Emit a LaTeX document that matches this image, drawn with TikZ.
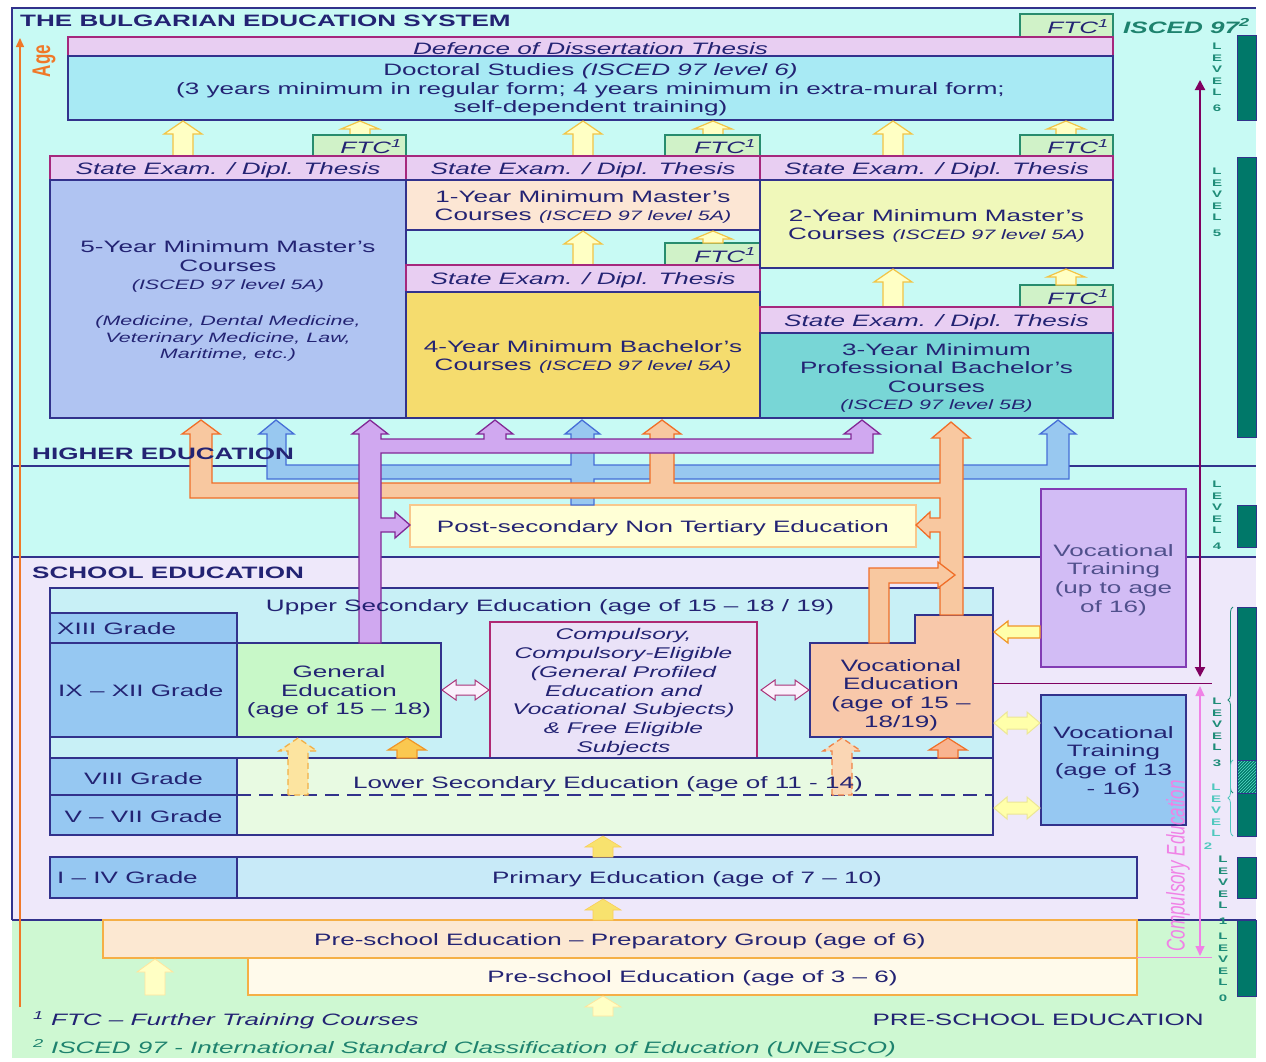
\documentclass[tikz,border=0pt]{standalone}
\usepackage{fontspec}
\setmainfont[FakeStretch=1.58]{Liberation Sans}
\newfontfamily\plainsf{Liberation Sans}
\usetikzlibrary{arrows.meta,patterns,decorations.pathreplacing}

\definecolor{navytext}{RGB}{35,35,115}
\definecolor{boxline}{RGB}{50,50,140}
\definecolor{hicyan}{RGB}{200,250,244}
\definecolor{schoollav}{RGB}{238,232,250}
\definecolor{preschgreen}{RGB}{206,248,210}
\definecolor{examfill}{RGB}{232,206,242}
\definecolor{exambord}{RGB}{165,40,125}
\definecolor{ftcfill}{RGB}{208,242,200}
\definecolor{ftcbord}{RGB}{40,140,110}
\definecolor{docfill}{RGB}{168,234,244}
\definecolor{fivefill}{RGB}{176,196,242}
\definecolor{onefill}{RGB}{252,230,212}
\definecolor{fourfill}{RGB}{245,220,110}
\definecolor{twofill}{RGB}{240,248,186}
\definecolor{threefill}{RGB}{120,214,214}
\definecolor{yelfill}{RGB}{255,255,196}
\definecolor{yelbord}{RGB}{242,196,70}
\definecolor{purpfill}{RGB}{208,168,240}
\definecolor{purpbord}{RGB}{130,40,150}
\definecolor{bluefill}{RGB}{152,200,240}
\definecolor{bluebord}{RGB}{70,110,215}
\definecolor{orfill}{RGB}{248,200,160}
\definecolor{orbord}{RGB}{240,110,40}
\definecolor{postfill}{RGB}{255,255,214}
\definecolor{postbord}{RGB}{248,200,140}
\definecolor{uppfill}{RGB}{200,240,246}
\definecolor{gradefill}{RGB}{150,200,242}
\definecolor{genfill}{RGB}{200,248,200}
\definecolor{compfill}{RGB}{234,226,248}
\definecolor{compbord}{RGB}{175,40,115}
\definecolor{vocfill}{RGB}{248,200,170}
\definecolor{lowfill}{RGB}{232,250,226}
\definecolor{vtupfill}{RGB}{210,188,245}
\definecolor{vtupbord}{RGB}{130,60,180}
\definecolor{vtuptext}{RGB}{80,80,140}
\definecolor{primfill}{RGB}{200,234,248}
\definecolor{prepfill}{RGB}{252,232,210}
\definecolor{prebord}{RGB}{245,175,70}
\definecolor{prefill}{RGB}{255,250,235}
\definecolor{tealbar}{RGB}{0,120,105}
\definecolor{hatchteal}{RGB}{90,220,200}
\definecolor{lvltext}{RGB}{30,140,120}
\definecolor{lvltwo}{RGB}{80,200,190}
\definecolor{iscedgreen}{RGB}{30,130,110}
\definecolor{rightpurp}{RGB}{128,0,96}
\definecolor{pinkline}{RGB}{240,130,230}
\definecolor{ageorange}{RGB}{240,120,40}
\definecolor{goldfill}{RGB}{250,200,80}
\definecolor{goldbord}{RGB}{240,150,40}
\definecolor{dashyfill}{RGB}{252,228,160}
\definecolor{dashybord}{RGB}{242,175,70}
\definecolor{dashofill}{RGB}{250,214,180}
\definecolor{dashobord}{RGB}{240,130,70}
\definecolor{sunfill}{RGB}{248,226,110}
\definecolor{dblfill}{RGB}{250,240,252}
\definecolor{dblbord}{RGB}{170,50,120}
\definecolor{ltyfill}{RGB}{255,255,170}
\definecolor{ltybord}{RGB}{236,230,150}

\newcommand{\bodysize}{\fontsize{16.5}{18.7}\selectfont}
\newcommand{\smallsize}{\fontsize{13.6}{16}\selectfont}
\newcommand{\compsize}{\fontsize{15.5}{18.7}\selectfont}
\newcommand{\lvlsize}{\fontsize{9.5}{11.5}\selectfont}

\tikzset{
  pbox/.style={draw=boxline, line width=1.3pt, inner sep=0pt, outer sep=0pt,
    text=navytext, align=center, font=\bodysize},
  exambar/.style={draw=exambord, fill=examfill, font=\bodysize\itshape},
  ftcbox/.style={draw=ftcbord, fill=ftcfill},
  ftctext/.style={inner sep=0pt, text=navytext, font=\bodysize\itshape},
  grade/.style={fill=gradefill},
  compbox/.style={draw=compbord, fill=compfill, font=\compsize\itshape},
  postbox/.style={draw=postbord, fill=postfill},
  vtupbox/.style={draw=vtupbord, fill=vtupfill, text=vtuptext},
  prepbox/.style={draw=prebord, fill=prepfill},
  prebox/.style={draw=prebord, fill=prefill},
  btext/.style={inner sep=0pt, text=navytext, align=center, font=\bodysize},
  headtext/.style={inner sep=0pt, text=navytext, font=\bodysize\bfseries, anchor=west},
  secline/.style={draw=boxline, line width=1.2pt},
  tealbox/.style={fill=tealbar, draw=boxline, line width=1pt},
  lvllabel/.style={anchor=north, inner sep=0pt, align=center, font=\lvlsize\bfseries},
  yarr/.style={fill=yelfill, draw=yelbord, line width=1.2pt},
  sunarr/.style={fill=sunfill, draw=sunfill!80!orange, line width=0.6pt},
  prearr/.style={fill=yelfill, draw=yelfill!80!orange, line width=0.8pt},
  goldarr/.style={fill=goldfill, draw=goldbord, line width=1.2pt},
  vocarr/.style={fill=orfill!90!red, draw=orbord, line width=1.2pt},
  dasharry/.style={fill=dashyfill, draw=dashybord, line width=1.3pt, dash pattern=on 6pt off 4pt},
  dasharro/.style={fill=dashofill, draw=dashobord, line width=1.3pt, dash pattern=on 6pt off 4pt},
  dblarr/.style={fill=dblfill, draw=dblbord, line width=1pt},
  ltyarr/.style={fill=ltyfill, draw=ltybord, line width=1pt},
  vtarr/.style={fill=ltyfill, draw=goldbord, line width=1.2pt},
  bluepipe/.style={fill=bluefill, draw=bluebord, line width=1.3pt},
  orpipe/.style={fill=orfill, draw=orbord, line width=1.3pt},
  purppipe/.style={fill=purpfill, draw=purpbord, line width=1.3pt},
}

% box with its text centred: [style]{x1}{y1}{x2}{y2}{name}{text}
\newcommand{\eduBox}[7][]{%
  \node[pbox,#1,minimum width={#4-#2},minimum height={#5-#3}] (#6)
    at ({(#2+#4)/2},{(#3+#5)/2}) {};
  \node[pbox,#1,draw=none,fill=none] (#6txt) at ([yshift=-2pt]#6.center) {#7};}
% FTC tab
\newcommand{\ftcBox}[5]{%
  \eduBox[ftcbox]{#1}{#2}{#3}{#4}{#5}{}
  \node[ftctext,anchor=east] (#5lbl) at ([xshift=-4pt,yshift=-1pt]#5.east) {FTC\textsuperscript{1}};}
% fat arrow up: [style]{x}{base}{tip}{shaft}{head}{head length}
\newcommand{\fatup}[7][]{%
  \draw[#1] ({#2-#5},#3) -- ({#2-#5},{#4+#7}) -- ({#2-#6},{#4+#7}) -- (#2,#4)
    -- ({#2+#6},{#4+#7}) -- ({#2+#5},{#4+#7}) -- ({#2+#5},#3) -- cycle;}
% fat arrow left: [style]{base x}{tip x}{y}{shaft}{head}{head length}
\newcommand{\fatleft}[7][]{%
  \draw[#1] (#2,{#4-#5}) -- ({#3+#7},{#4-#5}) -- ({#3+#7},{#4-#6}) -- (#3,#4)
    -- ({#3+#7},{#4+#6}) -- ({#3+#7},{#4+#5}) -- (#2,{#4+#5}) -- cycle;}
% fat double arrow: [style]{x1}{x2}{y}{shaft}{head}{head length}
\newcommand{\fatboth}[7][]{%
  \draw[#1] (#2,#4) -- ({#2+#7},{#4-#6}) -- ({#2+#7},{#4-#5}) -- ({#3-#7},{#4-#5})
    -- ({#3-#7},{#4-#6}) -- (#3,#4) -- ({#3-#7},{#4+#6}) -- ({#3-#7},{#4+#5})
    -- ({#2+#7},{#4+#5}) -- ({#2+#7},{#4+#6}) -- cycle;}
% level tag: {x}{top}{digit}{colour}{name}
\newcommand{\levelTag}[5]{%
  \node[lvllabel,text=#4] (#5) at (#1,#2) {L\\E\\V\\E\\L\\[4pt]#3};}

\begin{document}
\begin{tikzpicture}[x=1pt,y=-1pt]
  \useasboundingbox (0,0) rectangle (1266,1061);
  %% backgrounds
  \fill[hicyan] (12,8) rectangle (1256,557);
  \fill[schoollav] (12,557) rectangle (1256,920);
  \fill[preschgreen] (12,920) rectangle (1256,1058);
  \draw[secline] (12,920) -- (12,8) -- (1256,8);
  \draw[secline] (12,466) -- (1256,466);
  \draw[secline] (12,557) -- (1256,557);
  \draw[secline] (12,920) -- (1256,920);

  %% age axis
  \coordinate (agelow) at (20,1007);
  \coordinate (agehigh) at (20,38);
  \draw[ageorange, line width=1.5pt, -{Triangle[length=9pt,width=8pt]}] (agelow) -- (agehigh);
  \node[rotate=90, yscale=1.5, inner sep=0pt, text=ageorange, font=\plainsf\fontsize{17}{17}\selectfont\bfseries] (agetxt) at (44,61) {Age};

  %% isced levels
  \draw[tealbox] (1237,35) rectangle (1256,120);
  \draw[tealbox] (1237,157) rectangle (1256,437);
  \draw[tealbox] (1237,505) rectangle (1256,547);
  \draw[tealbox] (1237,607) rectangle (1256,836);
  \fill[pattern=north east lines, pattern color=hatchteal] (1238,760) rectangle (1256,793);
  \draw[boxline, line width=1pt] (1237,760) -- (1256,760) (1237,793) -- (1256,793);
  \draw[tealbox] (1237,857) rectangle (1256,898);
  \draw[tealbox] (1237,920) rectangle (1256,996);
  \draw[decorate, decoration={brace,amplitude=5pt}, draw=lvltext, line width=0.8pt] (1233,793) -- (1233,607);
  \draw[decorate, decoration={brace,amplitude=5pt}, draw=lvltwo, line width=0.8pt] (1233,836) -- (1233,760);
  \levelTag{1217}{43}{6}{lvltext}{lvsix}
  \levelTag{1217}{168}{5}{lvltext}{lvfive}
  \levelTag{1217}{481}{4}{lvltext}{lvfour}
  \levelTag{1217}{698}{3}{lvltext}{lvthree}
  \node[lvllabel,text=lvltwo] (lvtwo) at (1216,784) {L\\E\\V\\E\\L};
  \node[lvllabel,text=lvltwo] (lvtwodigit) at (1208,843) {2};
  \levelTag{1223}{856}{1}{lvltext}{lvone}
  \levelTag{1223}{933}{0}{lvltext}{lvzero}

  %% higher education
  \ftcBox{1020}{14}{1113}{37}{ftctop}
  \eduBox[exambar]{68}{37}{1113}{56}{defence}{Defence of Dissertation Thesis}
  \eduBox[fill=docfill]{68}{56}{1113}{120}{doctoral}{Doctoral Studies \textit{(ISCED 97 level 6)}\\
    (3 years minimum in regular form; 4 years minimum in extra-mural form;\\self-dependent training)}
  \fatup[yarr]{183}{156}{121}{10}{19}{13}
  \fatup[yarr]{360}{135}{121}{10}{19}{8}
  \fatup[yarr]{583}{156}{121}{10}{19}{13}
  \fatup[yarr]{713}{135}{121}{10}{19}{8}
  \fatup[yarr]{893}{156}{121}{10}{19}{13}
  \fatup[yarr]{1066}{135}{121}{10}{19}{8}
  \ftcBox{313}{135}{406}{156}{ftca}
  \ftcBox{665}{135}{760}{156}{ftcb}
  \ftcBox{1020}{135}{1113}{156}{ftcc}
  \eduBox[exambar]{50}{156}{406}{180}{exama}{State Exam. / Dipl. Thesis}
  \eduBox[exambar]{406}{156}{760}{180}{examb}{State Exam. / Dipl. Thesis}
  \eduBox[exambar]{760}{156}{1113}{180}{examc}{State Exam. / Dipl. Thesis}
  \eduBox[fill=fivefill]{50}{180}{406}{418}{fiveyear}{5-Year Minimum Master's\\Courses\\
    {\smallsize\itshape (ISCED 97 level 5A)}\\[17pt]
    {\smallsize\itshape (Medicine, Dental Medicine,}\\[-2pt]
    {\smallsize\itshape Veterinary Medicine, Law,}\\[-2pt]
    {\smallsize\itshape Maritime, etc.)}}
  \eduBox[fill=onefill]{406}{180}{760}{230}{oneyear}{1-Year Minimum Master's\\Courses {\smallsize\itshape (ISCED 97 level 5A)}}
  \fatup[yarr]{583}{265}{231}{10}{19}{13}
  \ftcBox{665}{243}{760}{265}{ftcd}
  \fatup[yarr]{713}{243}{231}{10}{19}{8}
  \eduBox[exambar]{406}{265}{760}{292}{examd}{State Exam. / Dipl. Thesis}
  \eduBox[fill=fourfill]{406}{292}{760}{418}{fouryear}{4-Year Minimum Bachelor's\\Courses {\smallsize\itshape (ISCED 97 level 5A)}}
  \eduBox[fill=twofill]{760}{180}{1113}{268}{twoyear}{2-Year Minimum Master's\\Courses {\smallsize\itshape (ISCED 97 level 5A)}}
  \fatup[yarr]{893}{307}{269}{10}{19}{13}
  \ftcBox{1020}{285}{1113}{307}{ftce}
  \fatup[yarr]{1066}{285}{269}{10}{19}{8}
  \eduBox[exambar]{760}{307}{1113}{333}{exame}{State Exam. / Dipl. Thesis}
  \eduBox[fill=threefill]{760}{333}{1113}{418}{threeyear}{3-Year Minimum\\Professional Bachelor's\\Courses\\[-2pt]
    {\smallsize\itshape (ISCED 97 level 5B)}}

  %% post-secondary
  \eduBox[postbox]{410}{505}{916}{547}{postsec}{Post-secondary Non Tertiary Education}

  %% school education
  \eduBox[fill=uppfill]{50}{588}{993}{758}{uppersec}{}
  \eduBox[grade]{50}{613}{237}{643}{gradethirteen}{}
  \eduBox[grade]{50}{643}{237}{737}{gradetwelve}{}
  \eduBox[fill=genfill]{237}{643}{441}{737}{general}{General\\Education\\(age of 15 -- 18)}
  \eduBox[compbox]{490}{622}{757}{758}{compuls}{Compulsory,\\Compulsory-Eligible\\(General Profiled\\Education and\\
    Vocational Subjects)\\\& Free Eligible\\Subjects}
  \draw[pbox, fill=vocfill] (810,643) -- (915,643) -- (915,615) -- (993,615) -- (993,737) -- (810,737) -- cycle;
  \eduBox[fill=lowfill]{237}{758}{993}{835}{lowersec}{}
  \draw[boxline, line width=1.3pt, dash pattern=on 14pt off 8pt] (237,795) -- (993,795);
  \eduBox[grade]{50}{758}{237}{795}{gradeeight}{VIII Grade}
  \eduBox[grade]{50}{795}{237}{835}{gradeseven}{V -- VII Grade}
  \eduBox[vtupbox]{1041}{489}{1186}{667}{vtrainup}{Vocational\\Training\\(up to age\\of 16)}
  \eduBox[grade]{1041}{695}{1186}{825}{vtrainlow}{Vocational\\Training\\(age of 13\\- 16)}
  \eduBox[grade]{50}{857}{237}{898}{gradefour}{}
  \eduBox[fill=primfill]{237}{857}{1137}{898}{primary}{Primary Education (age of 7 -- 10)}

  %% pre-school education
  \eduBox[prepbox]{103}{920}{1137}{958}{prepgroup}{Pre-school Education -- Preparatory Group (age of 6)}
  \eduBox[prebox]{248}{958}{1137}{995}{preschool}{Pre-school Education (age of 3 -- 6)}

  %% school arrows
  \fatup[dasharry]{298}{795}{738}{10}{19}{13}
  \fatup[goldarr]{407}{758}{738}{10}{19}{12}
  \fatup[dasharro]{842}{795}{738}{10}{19}{13}
  \fatup[vocarr]{948}{758}{738}{10}{19}{12}
  \fatboth[dblarr]{442}{489}{690}{5}{10}{14}
  \fatboth[dblarr]{761}{809}{690}{5}{10}{14}
  \fatboth[ltyarr]{994}{1040}{723}{6}{11}{13}
  \fatboth[ltyarr]{994}{1040}{808}{6}{11}{13}
  \fatleft[vtarr]{1040}{994}{632}{6}{11}{14}
  \fatup[sunarr]{603}{857}{836}{10}{18}{11}
  \fatup[sunarr]{603}{920}{899}{10}{18}{11}
  \fatup[prearr]{155}{995}{959}{10}{18}{13}
  \fatup[prearr]{603}{1016}{996}{10}{18}{11}

  %% pipes to higher education
  \draw[bluepipe] (571,505) -- (571,479) -- (267,479) -- (267,434) -- (259,434) -- (276,420) -- (294,434)
    -- (286,434) -- (286,465) -- (571,465) -- (571,434) -- (565,434) -- (582,420) -- (600,434) -- (594,434)
    -- (594,465) -- (1047,465) -- (1047,434) -- (1040,434) -- (1058,420) -- (1076,434) -- (1069,434)
    -- (1069,479) -- (594,479) -- (594,505) -- cycle;
  \draw[orpipe] (940,615) -- (940,532) -- (930,532) -- (930,538) -- (916,525) -- (930,512) -- (930,518)
    -- (940,518) -- (940,498) -- (190,498) -- (190,434) -- (182,434) -- (201,420) -- (220,434) -- (212,434)
    -- (212,483) -- (650,483) -- (650,434) -- (643,434) -- (662,420) -- (681,434) -- (674,434) -- (674,483)
    -- (940,483) -- (940,438) -- (932,438) -- (951,422) -- (970,438) -- (963,438) -- (963,615) -- cycle;
  \draw[orpipe] (869,643) -- (869,568) -- (938,568) -- (938,562) -- (955,575) -- (938,588) -- (938,583)
    -- (889,583) -- (889,643) -- cycle;
  \draw[purppipe] (359,643) -- (359,434) -- (352,434) -- (370,420) -- (388,434) -- (381,434) -- (381,439)
    -- (484,439) -- (484,434) -- (477,434) -- (495,420) -- (513,434) -- (506,434) -- (506,439) -- (851,439)
    -- (851,434) -- (844,434) -- (862,420) -- (880,434) -- (873,434) -- (873,453) -- (381,453) -- (381,518)
    -- (395,518) -- (395,512) -- (410,525) -- (395,538) -- (395,532) -- (381,532) -- (381,643) -- cycle;

  %% right-hand axes
  \coordinate (sixtop) at (1200,80);
  \coordinate (threetop) at (1200,677);
  \coordinate (comptop) at (1200,686);
  \coordinate (compbot) at (1200,956);
  \draw[rightpurp, line width=2pt, {Triangle[length=10pt,width=10pt]}-{Triangle[length=10pt,width=10pt]}] (threetop) -- (sixtop);
  \draw[rightpurp, line width=1pt] (993,683) -- (1212,683);
  \draw[pinkline, line width=1.3pt, {Triangle[length=10pt,width=9pt]}-{Triangle[length=10pt,width=9pt]}] (comptop) -- (compbot);
  \draw[pinkline, line width=1pt] (1137,957) -- (1212,957);
  \node[rotate=90, yscale=1.5, inner sep=0pt, text=pinkline, font=\plainsf\fontsize{17}{17}\selectfont\itshape] (compedu) at (1178,866) {Compulsory Education};

  %% texts
  \node[headtext] (title) at (20,21) {THE BULGARIAN EDUCATION SYSTEM};
  \node[inner sep=0pt, anchor=west, text=iscedgreen, font=\bodysize\bfseries\itshape] (iscedtxt) at (1123,26) {ISCED 97\textsuperscript{2}};
  \node[headtext] (highertxt) at (32,454) {HIGHER EDUCATION};
  \node[headtext] (schooltxt) at (32,573) {SCHOOL EDUCATION};
  \node[btext] (uppertxt) at (550,607) {Upper Secondary Education (age of 15 -- 18 / 19)};
  \node[btext] (lowertxt) at (608,784) {Lower Secondary Education (age of 11 - 14)};
  \node[btext, anchor=west] (thirteentxt) at (57,629) {XIII Grade};
  \node[btext, anchor=west] (twelvetxt) at (58,691) {IX -- XII Grade};
  \node[btext, anchor=west] (fourtxt) at (57,878) {I -- IV Grade};
  \node[btext] (vocedtxt) at (901,695) {Vocational\\Education\\(age of 15 --\\18/19)};
  \node[btext, anchor=east] (preschtxt) at (1204,1020) {PRE-SCHOOL EDUCATION};
  \node[btext, anchor=west, font=\bodysize\itshape] (noteone) at (33,1020) {\textsuperscript{1} FTC -- Further Training Courses};
  \node[btext, anchor=west, text=iscedgreen, font=\bodysize\itshape] (notetwo) at (33,1048) {\textsuperscript{2} ISCED 97 - International Standard Classification of Education (UNESCO)};
\end{tikzpicture}
\end{document}
